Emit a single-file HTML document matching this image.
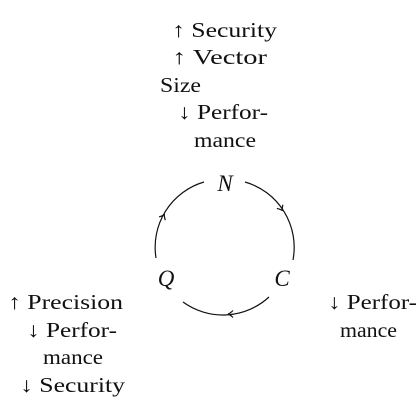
<!DOCTYPE html>
<html><head><style>
html,body{margin:0;padding:0;background:#fff;}
svg{display:block;}
</style></head><body>
<svg width="420" height="420" viewBox="0 0 420 420">
<g font-family="'Liberation Serif','DejaVu Serif',serif" font-size="21" fill="#111" style="font-family:'Liberation Serif','DejaVu Serif',serif">
<text x="172" y="37" textLength="105" lengthAdjust="spacingAndGlyphs">↑ Security</text>
<text x="172" y="64" textLength="95" lengthAdjust="spacingAndGlyphs">↑ Vector</text>
<text x="160" y="92" textLength="41" lengthAdjust="spacingAndGlyphs">Size</text>
<text x="178" y="119" textLength="90" lengthAdjust="spacingAndGlyphs">↓ Perfor-</text>
<text x="194" y="147" textLength="62" lengthAdjust="spacingAndGlyphs">mance</text>
<text x="8" y="309" textLength="115" lengthAdjust="spacingAndGlyphs">↑ Precision</text>
<text x="27" y="337" textLength="90" lengthAdjust="spacingAndGlyphs">↓ Perfor-</text>
<text x="43" y="364" textLength="60" lengthAdjust="spacingAndGlyphs">mance</text>
<text x="20" y="392" textLength="105" lengthAdjust="spacingAndGlyphs">↓ Security</text>
<text x="328" y="309" textLength="89" lengthAdjust="spacingAndGlyphs">↓ Perfor-</text>
<text x="340" y="337" textLength="57" lengthAdjust="spacingAndGlyphs">mance</text>
<g text-anchor="middle" font-style="italic" font-size="23">
<text x="225" y="191">N</text>
<text x="166" y="286">Q</text>
<text x="282" y="286">C</text>
</g>
</g>
<g fill="none" stroke="#111" stroke-width="1.2">
<path d="M245,182 A68,68 0 0 1 293,260"/>
<path d="M269,297 A68,68 0 0 1 183,302"/>
<path d="M156,258 A68,68 0 0 1 204,182"/>
<path d="M-4,-3.5 Q-1,-0.5 1,0 Q-1,0.5 -4,3.5" transform="translate(282,210) rotate(58)"/>
<path d="M-4,-3.5 Q-1,-0.5 1,0 Q-1,0.5 -4,3.5" transform="translate(229,314) rotate(180)"/>
<path d="M-4,-3.5 Q-1,-0.5 1,0 Q-1,0.5 -4,3.5" transform="translate(164,215) rotate(-63)"/>
</g>
</svg>
</body></html>
